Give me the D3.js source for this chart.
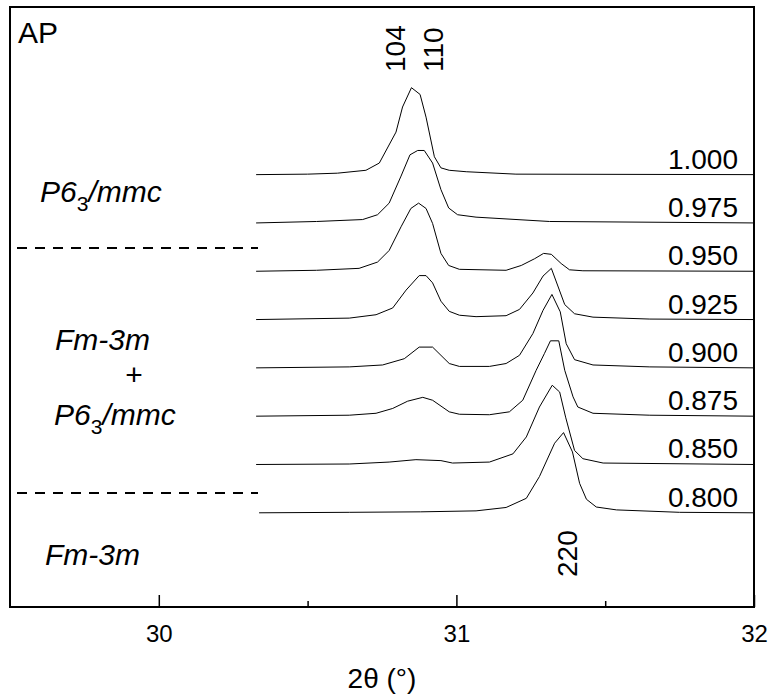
<!DOCTYPE html>
<html>
<head>
<meta charset="utf-8">
<script src="https://cdn.jsdelivr.net/npm/d3@7"></script>
<style>
  body { margin: 0; background: #fff; }
  text { font-family: "Liberation Sans", Arial, sans-serif; fill: #000; }
  .curve { fill: none; stroke: #000; stroke-width: 1; }
</style>
</head>
<body>
<script>
// sample labels (top to bottom) and their vertical offsets
var samples = ["1.000", "0.975", "0.950", "0.925", "0.900", "0.875", "0.850", "0.800"];
var offsets = [8.95, 7.95, 6.95, 5.95, 4.95, 3.95, 2.95, 1.95];

// [2theta, intensity]
var s1000 = [[30.327,0],[30.50,0.01],[30.60,0.03],[30.696,0.09],[30.741,0.24],[30.797,0.88],[30.819,1.40],[30.849,1.80],[30.878,1.66],[30.898,1.19],[30.926,0.37],[30.948,0.14],[30.976,0.09],[31.033,0.06],[31.20,0.01],[32.0,0]];
var s0975 = [[30.327,0],[30.53,0.03],[30.685,0.07],[30.735,0.17],[30.774,0.41],[30.814,0.97],[30.844,1.41],[30.870,1.50],[30.892,1.50],[30.920,1.24],[30.948,0.69],[30.974,0.31],[31.004,0.17],[31.066,0.12],[31.313,0.03],[32.0,0]];
var s0950 = [[30.327,0],[30.53,0.02],[30.673,0.06],[30.735,0.19],[30.774,0.43],[30.814,0.92],[30.847,1.30],[30.873,1.41],[30.898,1.30],[30.920,0.99],[30.948,0.37],[30.974,0.12],[31.010,0.04],[31.167,0.02],[31.218,0.12],[31.263,0.26],[31.293,0.37],[31.319,0.35],[31.352,0.16],[31.380,0.03],[31.425,0.01],[32.0,0]];
var s0925 = [[30.327,0],[30.64,0.03],[30.730,0.10],[30.786,0.24],[30.831,0.61],[30.875,0.91],[30.898,0.91],[30.920,0.76],[30.948,0.38],[30.976,0.17],[31.010,0.09],[31.066,0.06],[31.167,0.08],[31.212,0.21],[31.257,0.55],[31.291,0.90],[31.319,1.06],[31.364,0.31],[31.397,0.12],[31.459,0.05],[31.65,0.01],[32.0,0]];
var s0900 = [[30.327,0],[30.64,0.02],[30.752,0.06],[30.825,0.19],[30.875,0.43],[30.920,0.43],[30.976,0.09],[31.010,0.03],[31.111,0.03],[31.167,0.09],[31.212,0.26],[31.257,0.71],[31.291,1.19],[31.321,1.52],[31.349,1.16],[31.369,0.50],[31.397,0.17],[31.459,0.06],[31.65,0.02],[32.0,0]];
var s0875 = [[30.327,0],[30.64,0.02],[30.730,0.06],[30.786,0.16],[30.836,0.31],[30.887,0.39],[30.920,0.33],[30.976,0.09],[31.010,0.04],[31.111,0.03],[31.178,0.09],[31.223,0.33],[31.268,0.95],[31.296,1.30],[31.316,1.56],[31.344,1.56],[31.364,0.95],[31.392,0.40],[31.408,0.19],[31.459,0.06],[31.65,0.02],[32.0,0]];
var s0850 = [[30.327,0],[30.64,0.01],[30.774,0.05],[30.864,0.10],[30.948,0.08],[30.987,0.03],[31.111,0.05],[31.190,0.22],[31.235,0.57],[31.279,1.19],[31.322,1.64],[31.347,1.50],[31.367,0.98],[31.397,0.29],[31.425,0.12],[31.493,0.03],[32.0,0]];
var s0800 = [[30.337,0],[30.64,0.01],[30.88,0.02],[31.066,0.04],[31.167,0.11],[31.235,0.30],[31.279,0.75],[31.330,1.44],[31.360,1.66],[31.390,1.26],[31.414,0.61],[31.437,0.28],[31.470,0.12],[31.538,0.06],[31.75,0.01],[32.0,0]];
var series = [s1000, s0975, s0950, s0925, s0900, s0875, s0850, s0800];

var majorTicks = [30, 31, 32];
var minorTicks = [30.5, 31.5];

// reflection labels: [text, 2theta]
var hklTop = [["104", 30.793], ["110", 30.922]];
var hklBottom = [["220", 31.37]];

var W = 770, H = 696;
var frame = {left: 10, right: 754, top: 7, bottom: 607};

var x = d3.scaleLinear().domain([29.5, 32]).range([frame.left, frame.right]);
var y = d3.scaleLinear().domain([0, 12.42]).range([frame.bottom, frame.top]);

var svg = d3.select("body").append("svg")
  .attr("width", W)
  .attr("height", H);

// curves
var line = d3.line()
  .x(function(d) { return x(d[0]); })
  .y(function(d) { return y(d[1]); });

series.forEach(function(s, i) {
  var pts = s.map(function(d) { return [d[0], offsets[i] + d[1]]; });
  svg.append("path")
    .attr("class", "curve")
    .attr("d", line(pts));

  svg.append("text")
    .attr("x", 738)
    .attr("y", y(offsets[i]) - 6)
    .attr("text-anchor", "end")
    .style("font-size", "28px")
    .text(samples[i]);
});

// x axis, ticks pointing in
svg.append("g")
  .attr("transform", "translate(0," + frame.bottom + ")")
  .call(d3.axisBottom(x).tickValues(majorTicks).tickSizeInner(-12).tickSizeOuter(0).tickPadding(18).tickFormat(d3.format("d")))
  .call(function(g) {
    g.select(".domain").remove();
    g.selectAll(".tick line").attr("stroke", "#000").attr("stroke-width", 1.5);
    g.selectAll(".tick text").style("font-size", "24px").style("font-family", "Liberation Sans, Arial, sans-serif").attr("fill", "#000");
  });

svg.append("g")
  .attr("transform", "translate(0," + frame.bottom + ")")
  .call(d3.axisBottom(x).tickValues(minorTicks).tickSizeInner(-6).tickSizeOuter(0).tickFormat(""))
  .call(function(g) {
    g.select(".domain").remove();
    g.selectAll(".tick line").attr("stroke", "#000").attr("stroke-width", 1.5);
  });

// frame
svg.append("rect")
  .attr("x", frame.left)
  .attr("y", frame.top)
  .attr("width", frame.right - frame.left)
  .attr("height", frame.bottom - frame.top)
  .attr("fill", "none")
  .attr("stroke", "#000")
  .attr("stroke-width", 2);

// axis title
svg.append("text")
  .attr("x", (frame.left + frame.right) / 2)
  .attr("y", 688)
  .attr("text-anchor", "middle")
  .style("font-size", "28px")
  .text("2\u03B8 (\u00B0)");

// reflection labels
hklTop.forEach(function(h) {
  svg.append("text")
    .attr("transform", "translate(" + (x(h[1]) + 10) + ",72) rotate(-90)")
    .style("font-size", "28px")
    .text(h[0]);
});
hklBottom.forEach(function(h) {
  svg.append("text")
    .attr("transform", "translate(" + (x(h[1]) + 10) + ",577) rotate(-90)")
    .style("font-size", "28px")
    .text(h[0]);
});

// sample label
svg.append("text")
  .attr("x", 18)
  .attr("y", 43)
  .style("font-size", "30px")
  .text("AP");

// phase boundaries
[248, 493].forEach(function(yy) {
  svg.append("line")
    .attr("x1", 17).attr("x2", 258)
    .attr("y1", yy).attr("y2", yy)
    .attr("stroke", "#000")
    .attr("stroke-width", 2)
    .attr("stroke-dasharray", "10,8");
});

// phase names
function p63(xx, yy) {
  var t = svg.append("text")
    .attr("x", xx)
    .attr("y", yy)
    .style("font-size", "30px")
    .style("font-style", "italic");
  t.append("tspan").text("P6");
  t.append("tspan").attr("dy", 9).style("font-size", "21px").style("font-style", "normal").text("3");
  t.append("tspan").attr("dy", -9).text("/mmc");
}
function fm3m(xx, yy) {
  svg.append("text")
    .attr("x", xx)
    .attr("y", yy)
    .style("font-size", "30px")
    .style("font-style", "italic")
    .text("Fm-3m");
}
p63(40, 202);
fm3m(55, 350);
svg.append("text")
  .attr("x", 134)
  .attr("y", 385)
  .attr("text-anchor", "middle")
  .style("font-size", "30px")
  .text("+");
p63(54, 425);
fm3m(45, 565);
</script>
</body>
</html>
